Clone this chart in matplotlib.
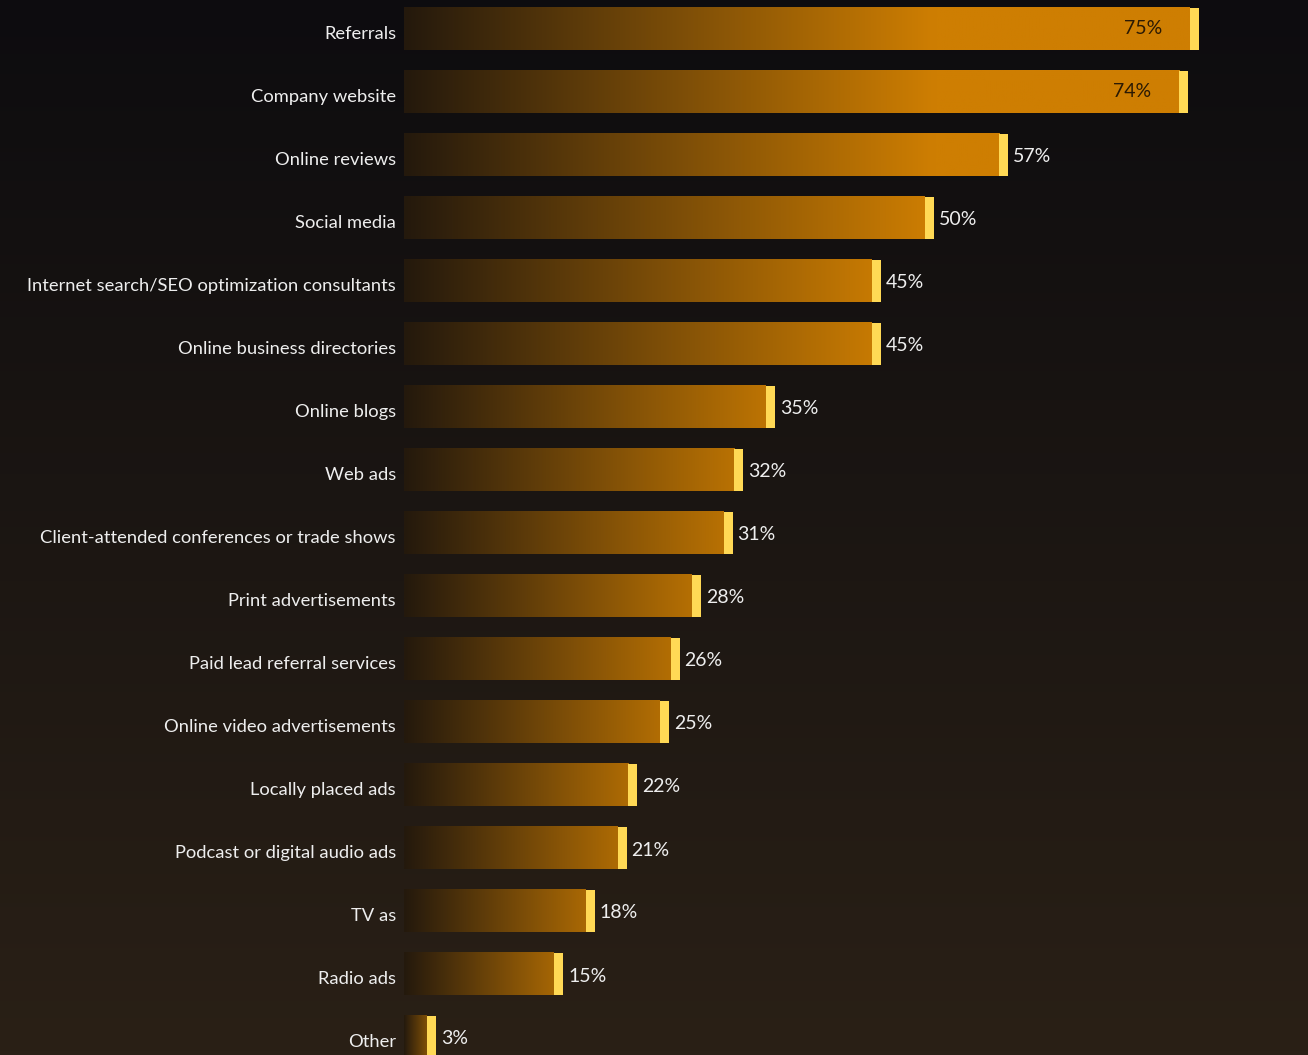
import matplotlib.pyplot as plt
import numpy as np

categories = ["Referrals", "Company website", "Online reviews", "Social media",
              "Internet search/SEO optimization consultants", "Online business directories",
              "Online blogs", "Web ads", "Client-attended conferences or trade shows",
              "Print advertisements", "Paid lead referral services",
              "Online video advertisements", "Locally placed ads",
              "Podcast or digital audio ads", "TV as", "Radio ads", "Other"]
values = [75, 74, 57, 50, 45, 45, 35, 32, 31, 28, 26, 25, 22, 21, 18, 15, 3]

W, H = 1308, 1055
plt.rcParams['font.family'] = ['Lato', 'DejaVu Sans']

fig = plt.figure(figsize=(W / 100, H / 100), dpi=100)

# background: near black at the top fading to dark brown at the bottom
bg = fig.add_axes([0, 0, 1, 1])
top = np.array([13, 12, 15]) / 255
bot = np.array([42, 32, 22]) / 255
t = np.linspace(0, 1, 256)[:, None]
grad = top + (bot - top) * t
bg.imshow(grad[:, None, :].repeat(2, axis=1), aspect='auto', extent=[0, 1, 0, 1], origin='upper')
bg.axis('off')

ax = fig.add_axes([404 / W, 0, 901 / W, 1])
ax.patch.set_alpha(0)
ax.axis('off')

dark = np.array([36, 25, 13]) / 255
orange = np.array([206, 126, 2]) / 255
cap = 0.85
bh = 0.68

for i, (name, v) in enumerate(zip(categories, values)):
    # horizontal gradient along the bar, saturating for the long bars
    n = 200
    xs = np.linspace(0, v - cap, n)
    s = 0.72 + 0.28 * min(1, v / 50)
    f = np.clip(xs / min(v, 50), 0, 1) * s
    row = dark + (orange - dark) * f[:, None]
    ax.imshow(row[None, :, :], aspect='auto', extent=[0, v - cap, i + bh / 2, i - bh / 2],
              interpolation='bilinear')
    ax.barh(i, cap, left=v - cap, height=bh, color='#ffd955', linewidth=0)

    ax.annotate(name, (0, i), xytext=(-8, -5), textcoords='offset pixels',
                ha='right', va='center', color='#eeeeee', fontsize=13.2)
    if v >= 70:
        ax.annotate(f"{v}%", (v - cap, i), xytext=(-28, 0), textcoords='offset pixels',
                    ha='right', va='center', color='#2b1a04', fontsize=14)
    else:
        ax.annotate(f"{v}%", (v, i), xytext=(5, -2), textcoords='offset pixels',
                    ha='left', va='center', color='#eeeeee', fontsize=14)

ax.set_xlim(0, 85)
ax.set_ylim((H - 29) / 63, -29 / 63)

fig.savefig("out.png", dpi=100)
